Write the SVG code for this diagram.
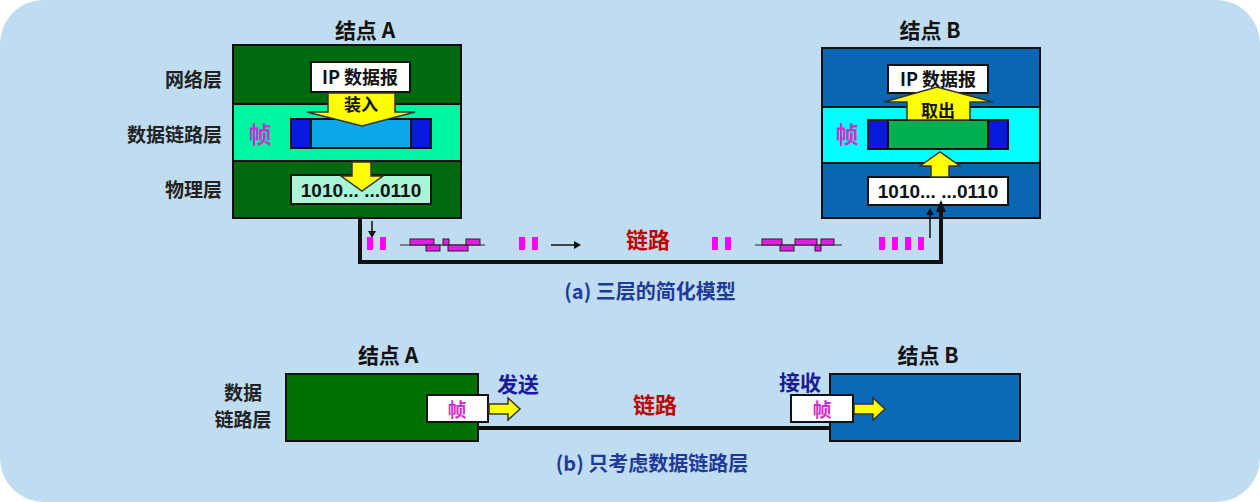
<svg xmlns="http://www.w3.org/2000/svg" width="1260" height="502" viewBox="0 0 1260 502">
<style>
text{font-family:"Noto Sans CJK SC","Liberation Sans",sans-serif;font-weight:bold}
.t{font-size:21px;fill:#111;text-anchor:middle}
.l{font-size:19px;fill:#222;text-anchor:end}
.f{font-size:23px;fill:#cc33cc;text-anchor:middle}
.bx{stroke:#111;stroke-width:2}
.yl{fill:#ffff00;stroke:#333;stroke-width:1.5}
.mg{fill:#ff00ff}
.wv{fill:#e020e0;stroke:#222;stroke-width:1}
.cap{font-size:20px;fill:#1f3a9a;text-anchor:middle}
.red{font-size:22px;fill:#c00000;text-anchor:middle}
.nv{font-size:21px;fill:#1a1a9a;text-anchor:middle}
.num{font-family:"Liberation Sans",sans-serif;font-size:19px;fill:#111;text-anchor:middle}
</style>
<rect x="0" y="0" width="1260" height="502" fill="#ffffff"/>
<rect x="0" y="0" width="1260" height="502" rx="44" fill="#bfdcf0"/>
<text class="l" x="222" y="87">网络层</text>
<text class="l" x="222" y="142">数据链路层</text>
<text class="l" x="222" y="197">物理层</text>
<g id="nodeA">
<text class="t" x="365" y="38">结点 A</text>
<rect class="bx" x="233" y="45" width="228" height="173" fill="#006a10"/>
<rect class="bx" x="233" y="104" width="228" height="57" fill="#00f5a0"/>
<text class="f" x="260" y="143">帧</text>
<rect class="bx" x="291" y="119" width="140" height="29" fill="#0aa8e8"/>
<rect x="291" y="119" width="20" height="29" fill="#0a1adc" stroke="#111" stroke-width="2"/>
<rect x="411" y="119" width="20" height="29" fill="#0a1adc" stroke="#111" stroke-width="2"/>
<rect class="bx" x="311" y="62" width="99" height="30" fill="#fff"/>
<text x="360" y="84" style="font-size:18px;fill:#111;text-anchor:middle">IP 数据报</text>
<path class="yl" d="M328 93 H395 V112 H415 L362 126 L307 112 H328 Z"/>
<text x="361" y="111" style="font-size:17px;fill:#111;text-anchor:middle">装入</text>
<rect class="bx" x="291" y="175" width="140" height="29" fill="#a8f5d8"/>
<text class="num" x="361" y="197">1010...  ...0110</text>
<path class="yl" d="M352 162 H371 V176 H383 L362 191 L341 176 H352 Z"/>
</g>
<g id="nodeB">
<text class="t" x="930" y="38">结点 B</text>
<rect class="bx" x="822" y="48" width="218" height="170" fill="#0a66b4"/>
<rect class="bx" x="822" y="107" width="218" height="56" fill="#00ffff"/>
<text class="f" x="847" y="143">帧</text>
<rect class="bx" x="868" y="120" width="140" height="29" fill="#00b050"/>
<rect x="868" y="120" width="20" height="29" fill="#0a1adc" stroke="#111" stroke-width="2"/>
<rect x="988" y="120" width="20" height="29" fill="#0a1adc" stroke="#111" stroke-width="2"/>
<rect class="bx" x="888" y="65" width="100" height="28" fill="#fff"/>
<text x="938" y="86" style="font-size:18px;fill:#111;text-anchor:middle">IP 数据报</text>
<path class="yl" d="M907 120 V102 H884 L937 87 L993 102 H970 V120 Z"/>
<text x="938" y="117" style="font-size:17px;fill:#111;text-anchor:middle">取出</text>
<rect class="bx" x="868" y="177" width="140" height="28" fill="#fff"/>
<text class="num" x="938" y="198">1010...  ...0110</text>
<path class="yl" d="M931 177 V166 H920 L940 152 L960 166 H949 V177 Z"/>
</g>
<g id="connectors">
<path d="M360 218 V262 H941 V208" fill="none" stroke="#111" stroke-width="4"/>
<path d="M941 200 L936 212 H946 Z" fill="#111"/>
<path d="M372 221 V232" stroke="#111" stroke-width="1.5"/>
<path d="M368 231 L372 238 L376 231 Z" fill="#111"/>
<path d="M930 238 V214" stroke="#111" stroke-width="1.5"/>
<path d="M926 215 L930 208 L934 215 Z" fill="#111"/>
<g class="mg">
<rect x="367" y="237" width="6" height="13"/><rect x="380" y="237" width="6" height="13"/>
<rect x="519" y="237" width="6" height="13"/><rect x="532" y="237" width="6" height="13"/>
<rect x="712" y="237" width="6" height="13"/><rect x="725" y="237" width="6" height="13"/>
<rect x="879" y="237" width="6" height="13"/><rect x="892" y="237" width="6" height="13"/><rect x="905" y="237" width="6" height="13"/><rect x="918" y="237" width="6" height="13"/>
</g>
<path d="M400 245 H485" stroke="#222" stroke-width="1"/>
<rect class="wv" x="410" y="239" width="24" height="6"/>
<rect class="wv" x="426" y="245" width="14" height="6"/>
<rect class="wv" x="443" y="239" width="6" height="6"/>
<rect class="wv" x="448" y="245" width="20" height="6"/>
<rect class="wv" x="466" y="239" width="14" height="6"/>
<path d="M755 245 H842" stroke="#222" stroke-width="1"/>
<rect class="wv" x="762" y="239" width="20" height="6"/>
<rect class="wv" x="780" y="245" width="14" height="6"/>
<rect class="wv" x="795" y="239" width="22" height="6"/>
<rect class="wv" x="815" y="245" width="6" height="6"/>
<rect class="wv" x="821" y="239" width="13" height="6"/>
<path d="M551 245 H574" stroke="#111" stroke-width="1.5"/>
<path d="M574 241 L581 245 L574 249 Z" fill="#111"/>
<text class="red" x="648" y="248">链路</text>
<text class="cap" x="650" y="299">(a) 三层的简化模型</text>
<path d="M478 428 H830" stroke="#111" stroke-width="4"/>
<text class="red" x="655" y="413">链路</text>
</g>
<g id="nodeA2">
<text class="t" x="388" y="363">结点 A</text>
<text x="243" y="400" style="font-size:19px;fill:#222;text-anchor:middle">数据</text>
<text x="243" y="427" style="font-size:19px;fill:#222;text-anchor:middle">链路层</text>
<rect class="bx" x="286" y="374" width="192" height="67" fill="#007000"/>
<rect class="bx" x="427" y="395" width="61" height="27" fill="#fff"/>
<text class="f" x="457" y="417" style="font-size:19px">帧</text>
<path class="yl" d="M489 404 H508 V398 L520 409 L508 420 V414 H489 Z"/>
<text class="nv" x="518" y="392">发送</text>
</g>
<g id="nodeB2">
<text class="t" x="928" y="363">结点 B</text>
<rect class="bx" x="830" y="374" width="190" height="67" fill="#0a6ab8"/>
<rect class="bx" x="791" y="395" width="62" height="27" fill="#fff"/>
<text class="f" x="822" y="417" style="font-size:19px">帧</text>
<path class="yl" d="M854 404 H873 V398 L885 409 L873 420 V414 H854 Z"/>
<text class="nv" x="800" y="390">接收</text>
</g>
<text class="cap" x="652" y="471">(b) 只考虑数据链路层</text>
</svg>
